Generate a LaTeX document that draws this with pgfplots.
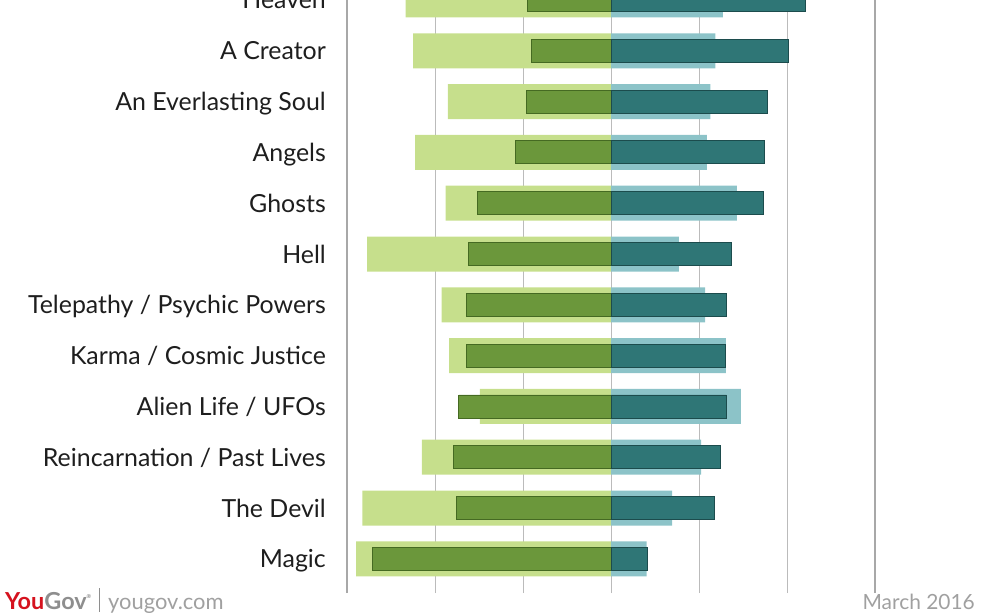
\documentclass[border={0pt 0pt 0pt -9bp}]{standalone}
\usepackage{pgfplots}
\pgfplotsset{compat=1.18}
\usepackage{pgfplotstable}
\usepackage{fontspec}
\setmainfont{Lato}
\definecolor{lgreen}{HTML}{C6DF8C}
\definecolor{dgreen}{HTML}{6B973B}
\definecolor{dgreenE}{HTML}{456A22}
\definecolor{lteal}{HTML}{8CC3C8}
\definecolor{dteal}{HTML}{2F7676}
\definecolor{dtealE}{HTML}{1C4C4D}
\definecolor{gridc}{HTML}{BBBBBB}
\definecolor{edgec}{HTML}{A8A8A8}
\definecolor{ygred}{HTML}{D5121E}
\definecolor{ggray}{HTML}{8E8E8E}
\definecolor{labc}{HTML}{1E1E1E}
\definecolor{footc}{HTML}{A0A0A0}

\pgfplotstableread{
idx lightL darkL darkR lightR
0  -57.9 -54.3 8.3  8.1
1  -56.5 -35.2 23.5 13.9
2  -43.0 -35.9 24.9 20.5
3  -29.8 -34.6 26.2 29.5
4  -36.8 -32.8 26.1 26.1
5  -38.5 -32.8 26.3 21.4
6  -55.4 -32.5 27.4 15.4
7  -37.6 -30.3 34.7 28.6
8  -44.5 -21.8 34.8 21.8
9  -37.1 -19.3 35.5 22.6
10 -45.0 -18.1 40.4 23.7
11 -46.7 -18.9 44.1 25.4
}\data

\begin{document}
\begin{tikzpicture}
\path (0,0) rectangle (982bp,614bp);
\begin{axis}[
  at={(347bp,21bp)}, anchor=south west,
  scale only axis, width=528bp, height=593bp,
  xmin=-60, xmax=60, ymin=-0.673, ymax=11,
  axis line style={draw=none},
  xtick={-40,-20,0,20,40}, xticklabels={},
  extra x ticks={-60,60}, extra x tick labels={},
  extra x tick style={grid style={draw=edgec, line width=1.6bp}},
  xmajorgrids, grid style={draw=gridc, line width=0.9bp},
  major tick length=0pt,
  ytick={0,...,11},
  yticklabels={Magic, The Devil, Reincarnation / Past Lives, Alien Life / UFOs, Karma / Cosmic Justice, Telepathy / Psychic Powers, Hell, Ghosts, Angels, An Everlasting Soul, A Creator, Heaven},
  yticklabel style={anchor=east, inner sep=0pt, xshift=-21bp, font=\fontsize{25}{30}\selectfont, text=labc, text height=18bp, text depth=0pt},
  xbar, bar shift=0pt,
]
\addplot[fill=lgreen, draw=none, bar width=35bp] table[x=lightL, y=idx]{\data};
\addplot[fill=lteal, draw=none, bar width=35bp] table[x=lightR, y=idx]{\data};
\addplot[fill=dgreen, draw=dgreenE, line width=0.8bp, bar width=23bp] table[x=darkL, y=idx]{\data};
\addplot[fill=dteal, draw=dtealE, line width=0.8bp, bar width=23bp] table[x=darkR, y=idx]{\data};
\end{axis}
\node[anchor=base west, inner sep=0pt, font=\fontsize{23.5}{27}\selectfont\bfseries] at (5bp,5bp) {\textcolor{ygred}{You}\textcolor{ggray}{Gov}\raisebox{11bp}{\textcolor{ggray}{\fontsize{5.5}{7}\selectfont\textregistered}}};
\draw[ggray, line width=0.8bp] (99bp,2bp) -- (99bp,26bp);
\node[anchor=base west, inner sep=0pt, font=\fontsize{22}{26}\selectfont, text=footc] at (108bp,5bp) {yougov.com};
\node[anchor=base east, inner sep=0pt, font=\fontsize{21}{25}\selectfont, text=footc] at (975bp,5bp) {March 2016};
\end{tikzpicture}
\end{document}
